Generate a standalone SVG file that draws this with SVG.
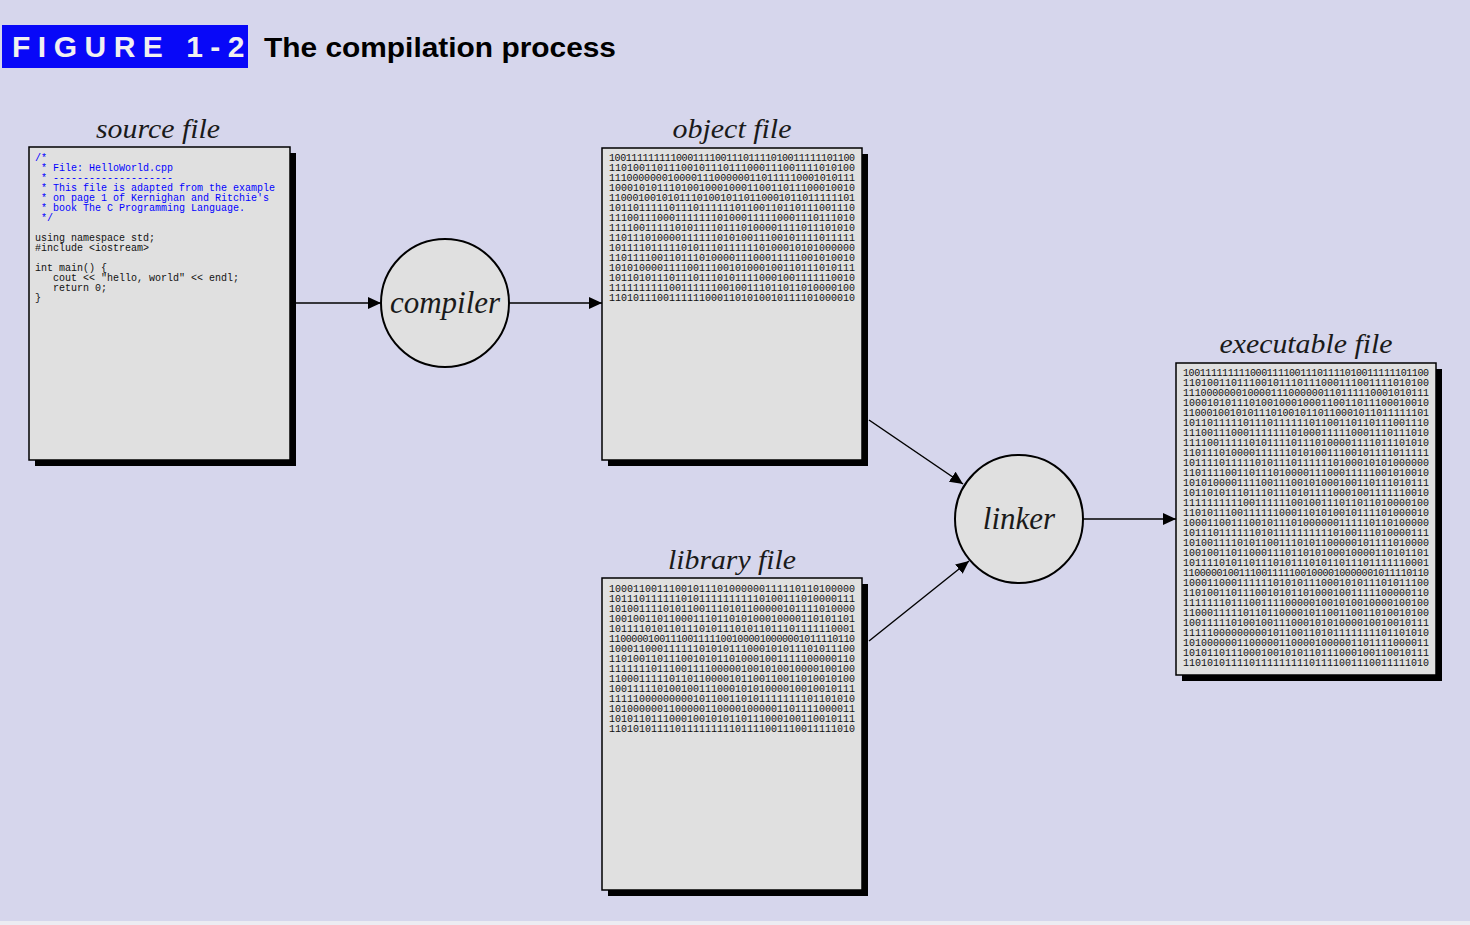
<svg xmlns="http://www.w3.org/2000/svg" width="1470" height="925" viewBox="0 0 1470 925">
<defs>
<marker id="ah" viewBox="0 0 13 12" markerUnits="userSpaceOnUse" markerWidth="13" markerHeight="12" refX="13" refY="6" orient="auto">
<path d="M0,0 L13,6 L0,12 z" fill="#000"/>
</marker>
</defs>
<style>
.bg{fill:#d6d6ec}
.box{fill:#e0e0e0;stroke:#000;stroke-width:1.5}
.shadow{fill:#000}
.lbl{font-family:"Liberation Serif",serif;font-style:italic;font-size:28px;fill:#1a1a1a;text-anchor:middle}
.proc{fill:#e0e0e0;stroke:#000;stroke-width:2}
.plbl{font-family:"Liberation Serif",serif;font-style:italic;font-size:31px;fill:#1a1a1a;text-anchor:middle}
.mono{font-family:"Liberation Mono",monospace;font-size:10px;fill:#111}
.cmt{fill:#0000ff}
.bin{font-family:"Liberation Mono",monospace;font-size:10px;fill:#111}
.conn{stroke:#000;stroke-width:1.5;fill:none;marker-end:url(#ah)}
</style>
<rect class="bg" x="0" y="0" width="1470" height="921"/>
<rect x="0" y="921" width="1470" height="4" fill="#ececf2"/>

<g id="title">
<rect x="2" y="25" width="246" height="43" fill="#0808f8"/>
<text x="12" y="57" font-family="Liberation Sans, sans-serif" font-weight="bold" font-size="30" fill="#f0f0f0" letter-spacing="7.5">FIGURE 1-2</text>
<text x="264" y="57" font-family="Liberation Sans, sans-serif" font-weight="bold" font-size="28" fill="#000" textLength="352" lengthAdjust="spacingAndGlyphs">The compilation process</text>
</g>

<g id="connectors">
<line class="conn" x1="296" y1="303" x2="381" y2="303"/>
<line class="conn" x1="509" y1="303" x2="602" y2="303"/>
<line class="conn" x1="869" y1="420" x2="963" y2="484"/>
<line class="conn" x1="869" y1="641" x2="969" y2="561"/>
<line class="conn" x1="1083" y1="519" x2="1176" y2="519"/>
</g>

<g id="source-file">
<text class="lbl" x="158" y="138" textLength="124" lengthAdjust="spacingAndGlyphs">source file</text>
<rect class="shadow" x="35" y="153" width="261" height="313"/>
<rect class="box" x="29" y="147" width="261" height="313"/>
<g class="mono">
<text class="cmt" x="35" y="161">/*</text>
<text class="cmt" x="41" y="171">* File: HelloWorld.cpp</text>
<text class="cmt" x="41" y="181">* --------------------</text>
<text class="cmt" x="41" y="191">* This file is adapted from the example</text>
<text class="cmt" x="41" y="201">* on page 1 of Kernighan and Ritchie's</text>
<text class="cmt" x="41" y="211">* book The C Programming Language.</text>
<text class="cmt" x="41" y="221">*/</text>
<text x="35" y="241">using namespace std;</text>
<text x="35" y="251">#include &lt;iostream&gt;</text>
<text x="35" y="271">int main() {</text>
<text x="53" y="281">cout &lt;&lt; "hello, world" &lt;&lt; endl;</text>
<text x="53" y="291">return 0;</text>
<text x="35" y="301">}</text>
</g>
</g>

<g id="compiler">
<circle class="proc" cx="445" cy="303" r="64"/>
<text class="plbl" x="445" y="313">compiler</text>
</g>

<g id="object-file">
<text class="lbl" x="732" y="138" textLength="119" lengthAdjust="spacingAndGlyphs">object file</text>
<rect class="shadow" x="608" y="154" width="260" height="312"/>
<rect class="box" x="602" y="148" width="260" height="312"/>
<g class="bin">
<text x="609" y="161" textLength="246">10011111111100011110011101111010011111101100</text>
<text x="609" y="171" textLength="246">11010011011100101110111000111001111010100</text>
<text x="609" y="181" textLength="246">111000000010000111000000110111110001010111</text>
<text x="609" y="191" textLength="246">10001010111010010001000110011011100010010</text>
<text x="609" y="201" textLength="246">110001001010111010010110110001011011111101</text>
<text x="609" y="211" textLength="246">10110111110111011111101100110110111001110</text>
<text x="609" y="221" textLength="246">11100111000111111101000111110001110111010</text>
<text x="609" y="231" textLength="246">11110011111010111101110100001111011101010</text>
<text x="609" y="241" textLength="246">11011101000011111101010011100101111011111</text>
<text x="609" y="251" textLength="246">10111101111101011101111110100010101000000</text>
<text x="609" y="261" textLength="246">11011110011011101000011100011111001010010</text>
<text x="609" y="271" textLength="246">10101000011110011100101000100110111010111</text>
<text x="609" y="281" textLength="246">10110101110111011101011110001001111110010</text>
<text x="609" y="291" textLength="246">11111111110011111100100111011011010000100</text>
<text x="609" y="301" textLength="246">11010111001111110001101010010111101000010</text>
</g>
</g>

<g id="library-file">
<text class="lbl" x="732" y="569" textLength="128" lengthAdjust="spacingAndGlyphs">library file</text>
<rect class="shadow" x="608" y="584" width="260" height="312"/>
<rect class="box" x="602" y="578" width="260" height="312"/>
<g class="bin">
<text x="609" y="592" textLength="246">10001100111001011101000000111110110100000</text>
<text x="609" y="602" textLength="246">10111011111101011111111110100111010000111</text>
<text x="609" y="612" textLength="246">10100111101011001110101100000101111010000</text>
<text x="609" y="622" textLength="246">10010011011000111011010100010000110101101</text>
<text x="609" y="632" textLength="246">10111101011011101011101011011101111110001</text>
<text x="609" y="642" textLength="246">11000001001110011111001000010000001011110110</text>
<text x="609" y="652" textLength="246">10001100011111101010111000101011101011100</text>
<text x="609" y="662" textLength="246">11010011011100101011010001001111100000110</text>
<text x="609" y="672" textLength="246">11111110111001111000001001010010000100100</text>
<text x="609" y="682" textLength="246">11000111110110110000101100110011010010100</text>
<text x="609" y="692" textLength="246">10011111010010011100010101000010010010111</text>
<text x="609" y="702" textLength="246">11111000000000101100110101111111101101010</text>
<text x="609" y="712" textLength="246">10100000011000001100001000001101111000011</text>
<text x="609" y="722" textLength="246">10101101110001001010110111000100110010111</text>
<text x="609" y="732" textLength="246">11010101111011111111101111001110011111010</text>
</g>
</g>

<g id="linker">
<circle class="proc" cx="1019" cy="519" r="64"/>
<text class="plbl" x="1019" y="529">linker</text>
</g>

<g id="executable-file">
<text class="lbl" x="1306" y="353" textLength="173" lengthAdjust="spacingAndGlyphs">executable file</text>
<rect class="shadow" x="1182" y="369" width="260" height="312"/>
<rect class="box" x="1176" y="363" width="260" height="312"/>
<g class="bin">
<text x="1183" y="376" textLength="246">10011111111100011110011101111010011111101100</text>
<text x="1183" y="386" textLength="246">11010011011100101110111000111001111010100</text>
<text x="1183" y="396" textLength="246">111000000010000111000000110111110001010111</text>
<text x="1183" y="406" textLength="246">10001010111010010001000110011011100010010</text>
<text x="1183" y="416" textLength="246">110001001010111010010110110001011011111101</text>
<text x="1183" y="426" textLength="246">10110111110111011111101100110110111001110</text>
<text x="1183" y="436" textLength="246">11100111000111111101000111110001110111010</text>
<text x="1183" y="446" textLength="246">11110011111010111101110100001111011101010</text>
<text x="1183" y="456" textLength="246">11011101000011111101010011100101111011111</text>
<text x="1183" y="466" textLength="246">10111101111101011101111110100010101000000</text>
<text x="1183" y="476" textLength="246">11011110011011101000011100011111001010010</text>
<text x="1183" y="486" textLength="246">10101000011110011100101000100110111010111</text>
<text x="1183" y="496" textLength="246">10110101110111011101011110001001111110010</text>
<text x="1183" y="506" textLength="246">11111111110011111100100111011011010000100</text>
<text x="1183" y="516" textLength="246">11010111001111110001101010010111101000010</text>
<text x="1183" y="526" textLength="246">10001100111001011101000000111110110100000</text>
<text x="1183" y="536" textLength="246">10111011111101011111111110100111010000111</text>
<text x="1183" y="546" textLength="246">10100111101011001110101100000101111010000</text>
<text x="1183" y="556" textLength="246">10010011011000111011010100010000110101101</text>
<text x="1183" y="566" textLength="246">10111101011011101011101011011101111110001</text>
<text x="1183" y="576" textLength="246">11000001001110011111001000010000001011110110</text>
<text x="1183" y="586" textLength="246">10001100011111101010111000101011101011100</text>
<text x="1183" y="596" textLength="246">11010011011100101011010001001111100000110</text>
<text x="1183" y="606" textLength="246">11111110111001111000001001010010000100100</text>
<text x="1183" y="616" textLength="246">11000111110110110000101100110011010010100</text>
<text x="1183" y="626" textLength="246">10011111010010011100010101000010010010111</text>
<text x="1183" y="636" textLength="246">11111000000000101100110101111111101101010</text>
<text x="1183" y="646" textLength="246">10100000011000001100001000001101111000011</text>
<text x="1183" y="656" textLength="246">10101101110001001010110111000100110010111</text>
<text x="1183" y="666" textLength="246">11010101111011111111101111001110011111010</text>
</g>
</g>
</svg>
